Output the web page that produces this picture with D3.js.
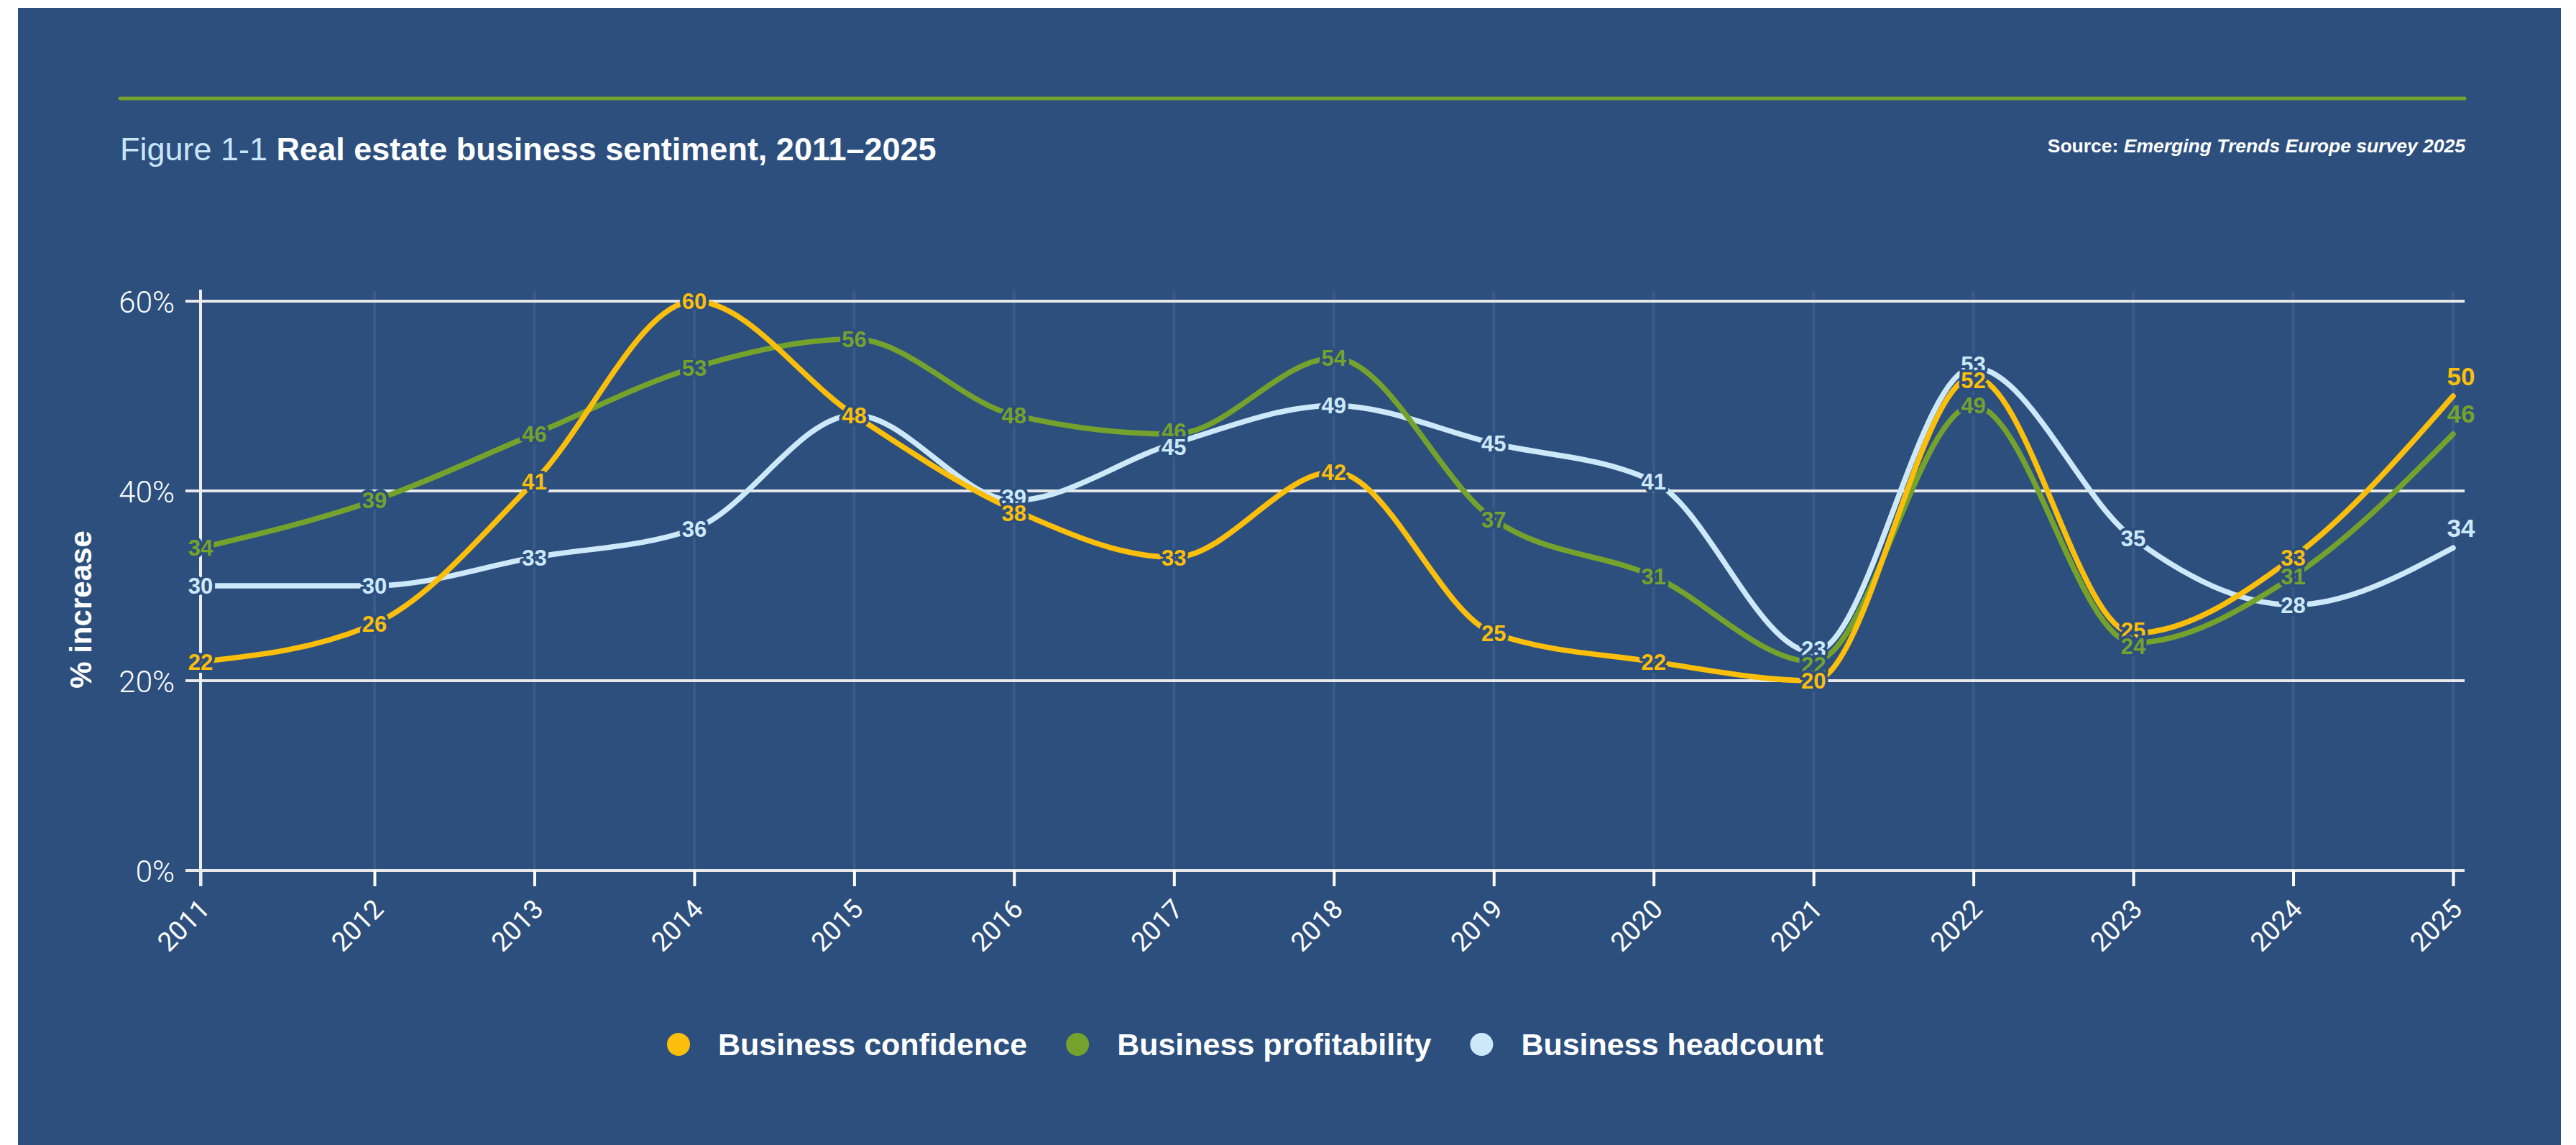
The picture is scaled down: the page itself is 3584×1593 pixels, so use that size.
<!DOCTYPE html>
<html><head><meta charset="utf-8">
<script src="https://cdn.jsdelivr.net/npm/d3@7"></script>
<style>html,body{margin:0;padding:0;background:#fff;} svg{display:block}</style>
</head><body><svg id="chart" width="3584" height="1593"></svg>
<script>
// ---- data ----
const years = [2011,2012,2013,2014,2015,2016,2017,2018,2019,2020,2021,2022,2023,2024,2025];
const confidence    = [22,26,41,60,48,38,33,42,25,22,20,52,25,33,50];
const profitability = [34,39,46,53,56,48,46,54,37,31,22,49,24,31,46];
const headcount     = [30,30,33,36,48,39,45,49,45,41,23,53,35,28,34];
const yTicks = [0,20,40,60];
const seriesNames = ["Business confidence","Business profitability","Business headcount"];
const seriesColors = ["#fbbf0b","#75a22c","#cde9f9"];
const titleLight = "Figure 1-1 ";
const titleBold = "Real estate business sentiment, 2011\u20132025";
const sourceLabel = "Source: ";
const sourceText = "Emerging Trends Europe survey 2025";
const yTitle = "% increase";

// ---- setup ----
const BG = "#2c4f7e";
const FONT = "'Liberation Sans', Arial, sans-serif";
const svg = d3.select("#chart");
svg.append("rect").attr("x",25).attr("y",11).attr("width",3538).attr("height",1582).attr("fill",BG);

// top rule
svg.append("line").attr("x1",167).attr("x2",3429).attr("y1",137).attr("y2",137)
  .attr("stroke","#75a22c").attr("stroke-width",5).attr("stroke-linecap","round");

// title
const t = svg.append("text").attr("x",167).attr("y",223)
  .attr("font-family",FONT).attr("font-size",45);
t.append("tspan").attr("fill","#c9e6f8").text(titleLight);
t.append("tspan").attr("fill","#fff").attr("font-weight","bold").text(titleBold);

// source
const s = svg.append("text").attr("x",3430).attr("y",212).attr("text-anchor","end")
  .attr("font-family",FONT).attr("font-size",26.5)
  .attr("font-weight","bold").attr("fill","#fff");
s.append("tspan").text(sourceLabel);
s.append("tspan").attr("font-style","italic").text(sourceText);

// scales
const x = d3.scaleLinear().domain([2011,2012,2025]).range([279,521,3413]);
const y = d3.scaleLinear().domain([0,60]).range([1211,419]);
const gridLeft = 258, gridRight = 3429;

// vertical grid
svg.append("g").selectAll("line").data(years.slice(1)).join("line")
  .attr("x1",d=>x(d)).attr("x2",d=>x(d)).attr("y1",405).attr("y2",y(0))
  .attr("stroke","rgba(255,255,255,0.07)").attr("stroke-width",4);

// horizontal grid
svg.append("g").selectAll("line").data(yTicks).join("line")
  .attr("x1",gridLeft).attr("x2",gridRight).attr("y1",d=>y(d)).attr("y2",d=>y(d))
  .attr("stroke","#e8e8ea").attr("stroke-width",4);

// y axis labels
const yAxis = svg.append("g").attr("transform",`translate(${x(2011)},0)`)
  .call(d3.axisLeft(y).tickValues(yTicks).tickFormat(d=>d+"%").tickSize(0).tickPadding(36));
yAxis.select(".domain").remove();
yAxis.selectAll("text").attr("fill","#fff").attr("font-family","Roboto, sans-serif")
  .attr("font-weight",300).attr("font-size",42).attr("dy","0.36em");

// x axis
const xAxis = svg.append("g").attr("transform",`translate(0,${y(0)})`)
  .call(d3.axisBottom(x).tickValues(years).tickFormat(d3.format("d")).tickSize(22));
xAxis.select(".domain").remove();
xAxis.selectAll("line").attr("stroke","#fff").attr("stroke-width",4);
xAxis.selectAll("text").attr("fill","#fff").attr("font-family","Roboto, sans-serif")
  .attr("font-weight",400).attr("font-size",37)
  .attr("x",0).attr("y",0).attr("dy","0.35em").attr("text-anchor","end")
  .attr("transform","translate(5,47) rotate(-45)");

// y axis line
svg.append("line").attr("x1",x(2011)).attr("x2",x(2011)).attr("y1",403).attr("y2",y(0)+22)
  .attr("stroke","#ececec").attr("stroke-width",4);

// y title
svg.append("text").attr("transform","translate(112,848) rotate(-90)")
  .attr("text-anchor","middle").attr("dy","0.35em")
  .attr("font-family",FONT).attr("font-weight","bold")
  .attr("font-size",42).attr("fill","#fff").text(yTitle);

// series
const seriesData = [confidence, profitability, headcount];
const line = d3.line().x((d,i)=>x(years[i])).y(d=>y(d)).curve(d3.curveMonotoneX);
const linesG = svg.append("g");
[2,1,0].forEach(si=>{
  linesG.append("path").attr("d",line(seriesData[si])).attr("fill","none").attr("stroke",seriesColors[si])
    .attr("stroke-width",7.5).attr("stroke-linecap","round").attr("stroke-linejoin","round");
});

// labels: positioned at points, nudged apart when crowded; lower labels on top
const drawRank = {1:0, 2:1, 0:2};
const labelItems = [];
[1,2,0].forEach(si=>{
  seriesData[si].forEach((v,i)=>{
    const last = i===years.length-1;
    labelItems.push({si, i, v, last,
      lx: last ? x(years[i])+11 : x(years[i]),
      ly: last ? y(v)-28 : y(v)});
  });
});
const minSep = 22;
d3.groups(labelItems.filter(d=>!d.last), d=>d.i).forEach(([i, arr])=>{
  arr.sort((a,b)=>a.ly-b.ly);
  for (let it=0; it<10; it++){
    for (let k=0; k<arr.length-1; k++){
      if (arr[k].v === arr[k+1].v) continue;
      const gap = arr[k+1].ly - arr[k].ly;
      if (gap < minSep){
        const sh = (minSep-gap)/2;
        arr[k].ly -= sh; arr[k+1].ly += sh;
      }
    }
  }
});
labelItems.sort((a,b)=> (a.i-b.i) || (a.ly-b.ly) || (drawRank[a.si]-drawRank[b.si]));
svg.append("g").selectAll("text").data(labelItems).join("text")
  .attr("x",d=>d.lx).attr("y",d=>d.ly)
  .attr("dy","0.36em").attr("text-anchor","middle")
  .attr("font-family",FONT).attr("font-weight","bold")
  .attr("font-size",d=> d.last ? 35 : 31)
  .attr("fill",d=>seriesColors[d.si])
  .attr("stroke",d=> d.last ? "none" : BG).attr("stroke-width",8)
  .attr("paint-order","stroke").attr("stroke-linejoin","round")
  .text(d=>d.v);

// legend
const lg = svg.append("g");
let cx = 944;
seriesNames.forEach((name,i)=>{
  lg.append("circle").attr("cx",cx).attr("cy",1453).attr("r",16).attr("fill",seriesColors[i]);
  const tx = lg.append("text").attr("x",cx+55).attr("y",1468)
    .attr("font-family",FONT).attr("font-weight","bold")
    .attr("font-size",43).attr("fill","#fff").text(name);
  cx = cx + 55 + tx.node().getComputedTextLength() + 70;
});
</script></body></html>
